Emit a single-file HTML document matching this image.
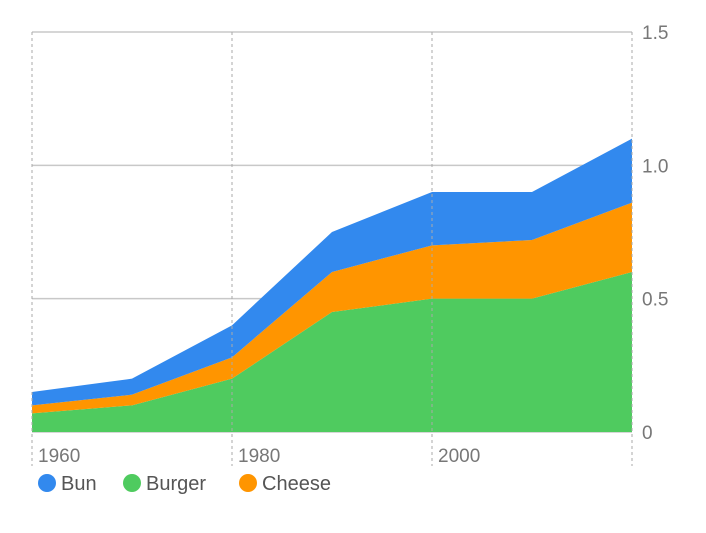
<!DOCTYPE html>
<html><head><meta charset="utf-8"><style>
body{margin:0;background:#fff;font-family:"Liberation Sans",sans-serif}
</style></head><body>
<svg width="706" height="528" xmlns="http://www.w3.org/2000/svg">
<g id="grid"></g>
<g id="areas"></g>
<g id="axes"></g>
<g font-size="20" fill="#555">
<circle cx="47" cy="483" r="9" fill="#3289EE"/>
<text x="61" y="490">Bun</text>
<circle cx="132" cy="483" r="9" fill="#4FCB5F"/>
<text x="146" y="490">Burger</text>
<circle cx="248" cy="483" r="9" fill="#FF9500"/>
<text x="262" y="490">Cheese</text>
</g>
</svg>
<script>
const years=[1960,1970,1980,1990,2000,2010,2020];
const burger=[0.07,0.10,0.20,0.45,0.50,0.50,0.60];
const cheese=[0.03,0.04,0.08,0.15,0.20,0.22,0.26];
const bun=[0.05,0.06,0.12,0.15,0.20,0.18,0.24];
const yTicks=[0,0.5,1.0,1.5];
const yTickLabels=["0","0.5","1.0","1.5"];
const xTicks=[1960,1980,2000,2020];
const xTickLabels=["1960","1980","2000",""];
const NS="http://www.w3.org/2000/svg";
const x=v=>32+(v-1960)*10;
const y=v=>432-v*266.67;
function mk(t,a,p){const e=document.createElementNS(NS,t);for(const k in a)e.setAttribute(k,a[k]);p.appendChild(e);return e;}
const grid=document.getElementById('grid'),areas=document.getElementById('areas'),axes=document.getElementById('axes');
yTicks.forEach((t,i)=>{
 const l=mk('line',{x1:32,x2:632,y1:y(t),y2:y(t),stroke:'#c8c8c8','stroke-width':1.5},grid);
 
 
 const tx=mk('text',{x:642,y:y(t)+7,'font-size':19,fill:'#777'},axes);
 tx.textContent=yTickLabels[i];
 
 
});
xTicks.forEach((t,i)=>{
 const l=mk('line',{x1:x(t),x2:x(t),y1:32,y2:466,stroke:'#aaa','stroke-width':1,'stroke-dasharray':'3,3'},axes);
 
 
 if(xTickLabels[i]){const tx=mk('text',{x:x(t)+6,y:462,'font-size':19,fill:'#777'},axes);
 tx.textContent=xTickLabels[i];
 
 }
});
const series=[[burger,'#4FCB5F','area-burger'],[cheese,'#FF9500','area-cheese'],[bun,'#3289EE','area-bun']];
let base=years.map(()=>0);
series.forEach(([vals,col,name])=>{
 const top=base.map((b,i)=>b+vals[i]);
 let d='M'+years.map((yr,i)=>x(yr)+','+y(top[i])).join('L');
 for(let i=years.length-1;i>=0;i--)d+='L'+x(years[i])+','+y(base[i]);
 const p=mk('path',{d:d+'Z',fill:col},areas);
 
 
 base=top;
});
</script>
</body></html>
